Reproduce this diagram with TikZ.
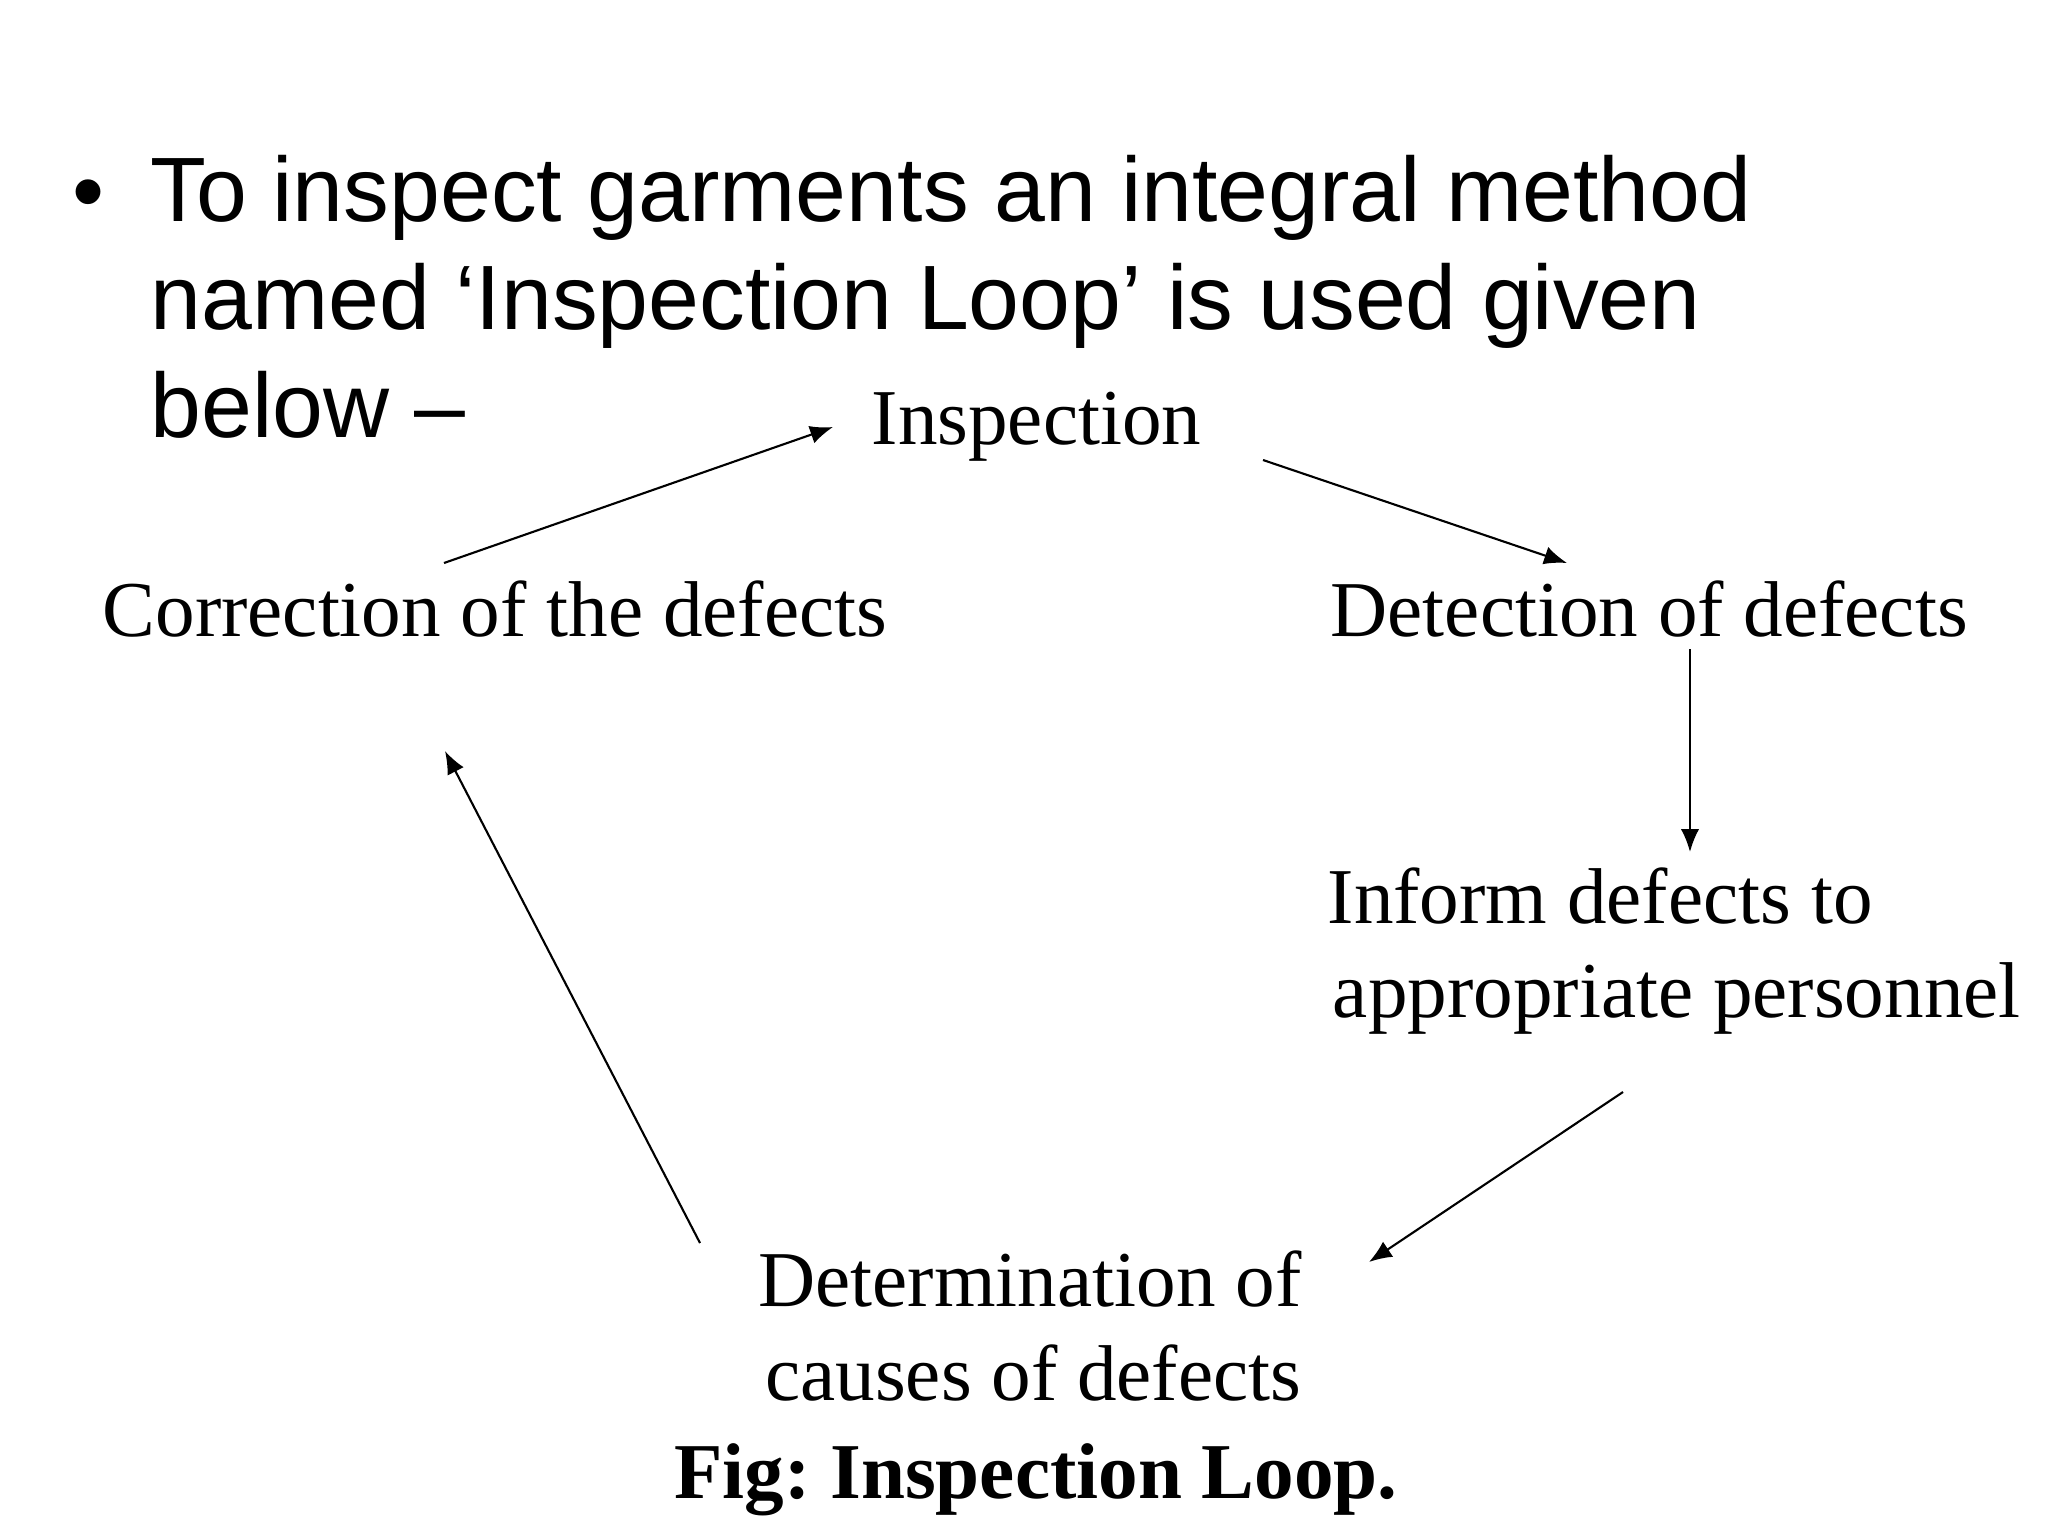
\documentclass[tikz,border=0pt]{standalone}
\usepackage{fontspec}
\setmainfont{Liberation Serif}
\newfontfamily\slidefont{Liberation Sans}
\usetikzlibrary{arrows.meta}
\frenchspacing
\tikzset{
  stage/.style={inner sep=0pt, font=\fontsize{22.5}{26.7}\selectfont},
  slide/.style={inner sep=0pt, font=\slidefont\fontsize{26}{30.6}\selectfont},
  loop/.style={->, line width=0.6pt},
}
\begin{document}
\begin{tikzpicture}[x=0.01cm, y=-0.01cm, >={Latex[length=6.5pt,width=5.2pt]}]
  \useasboundingbox (0,0) rectangle (2048,1536);
  \node[slide, anchor=base] (dot) at (89,222) {\textbullet};
  \node[slide, anchor=base west, align=left] (intro) at (150,437)
      {To inspect garments an integral method\\
       named ‘Inspection Loop’ is used given\\
       below –};
  \node[stage, anchor=base west] (insp) at (871,444) {Inspection};
  \node[stage, anchor=base west] (corr) at (102,636) {Correction of the defects};
  \node[stage, anchor=base west] (detect) at (1330,636) {Detection of defects};
  \node[stage, anchor=base west, align=left] (inform) at (1327,1017)
      {Inform defects to\\ \hspace{1.5pt}appropriate personnel};
  \node[stage, anchor=base east, align=right] (cause) at (1302,1400)
      {Determination of\\ causes of defects};
  \node[stage, anchor=base, font=\bfseries\fontsize{22.5}{26.7}\selectfont] (caption)
      at (1036,1498) {Fig: Inspection Loop.};
  \coordinate (corr-out) at (444,563);
  \coordinate (insp-in) at (833,427);
  \coordinate (insp-out) at (1263,460);
  \coordinate (detect-in) at (1567,563);
  \coordinate (detect-out) at (1690,649);
  \coordinate (inform-in) at (1690,852);
  \coordinate (inform-out) at (1623,1092);
  \coordinate (cause-in) at (1369,1262);
  \coordinate (cause-out) at (700,1243);
  \coordinate (corr-in) at (445,751);
  \draw[loop] (corr-out) -- (insp-in);
  \draw[loop] (insp-out) -- (detect-in);
  \draw[loop] (detect-out) -- (inform-in);
  \draw[loop] (inform-out) -- (cause-in);
  \draw[loop] (cause-out) -- (corr-in);
\end{tikzpicture}
\end{document}
